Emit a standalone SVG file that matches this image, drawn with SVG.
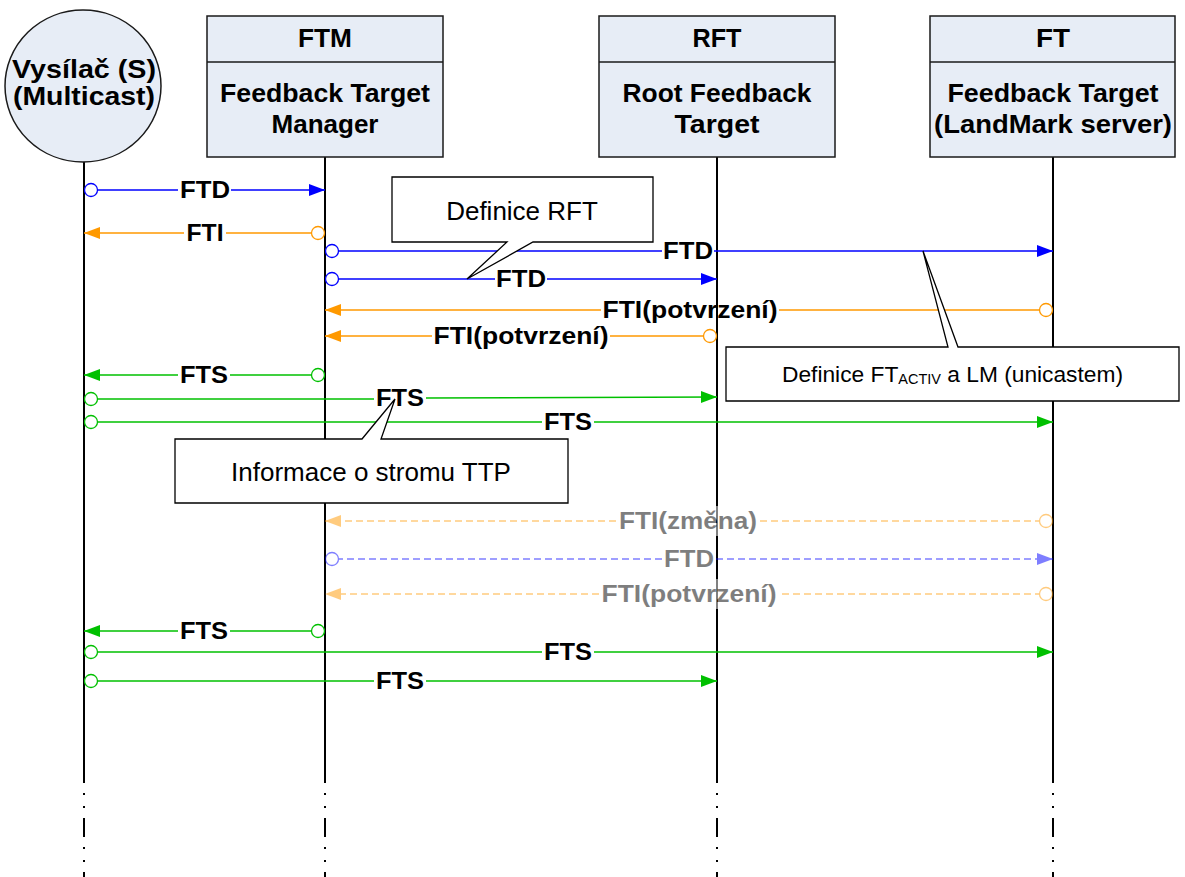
<svg xmlns="http://www.w3.org/2000/svg" width="1185" height="877" viewBox="0 0 1185 877">
<style>
.box{fill:#E7EDF6;stroke:#1a1a1a;stroke-width:1.5}
.life{stroke:#000;stroke-width:2;fill:none}
.dots{stroke:#000;stroke-width:2;fill:none;stroke-dasharray:2 11 2 10 19 10}
.hd{font-family:"Liberation Sans",Arial,sans-serif;font-weight:bold;font-size:25px;text-anchor:middle;fill:#000}
.lbl{font-family:"Liberation Sans",Arial,sans-serif;font-weight:bold;font-size:24px;text-anchor:middle;fill:#000}
.call{fill:#fff;stroke:#000;stroke-width:1.3}
.ct{font-family:"Liberation Sans",Arial,sans-serif;font-size:26px;text-anchor:middle;fill:#000}
.ct2{font-family:"Liberation Sans",Arial,sans-serif;font-size:22px;fill:#000}
.b{stroke:#0000FF;stroke-width:1.5;fill:none}
.o{stroke:#FF9900;stroke-width:1.5;fill:none}
.g{stroke:#00C000;stroke-width:1.5;fill:none}
.d{stroke-dasharray:7 4}
</style>
<defs>
<marker id="aB" markerUnits="userSpaceOnUse" markerWidth="16" markerHeight="12" refX="16" refY="6" orient="auto" overflow="visible"><path d="M0,0 L16,6 L0,12 Z" fill="#0000FF"/></marker>
<marker id="aO" markerUnits="userSpaceOnUse" markerWidth="16" markerHeight="12" refX="16" refY="6" orient="auto" overflow="visible"><path d="M0,0 L16,6 L0,12 Z" fill="#FF9900"/></marker>
<marker id="aG" markerUnits="userSpaceOnUse" markerWidth="16" markerHeight="12" refX="16" refY="6" orient="auto" overflow="visible"><path d="M0,0 L16,6 L0,12 Z" fill="#00C000"/></marker>
<marker id="cB" markerUnits="userSpaceOnUse" markerWidth="15" markerHeight="15" refX="0.5" refY="7.5" orient="auto" overflow="visible"><circle cx="7.5" cy="7.5" r="6.5" fill="#fff" stroke="#0000FF" stroke-width="1.3"/></marker>
<marker id="cO" markerUnits="userSpaceOnUse" markerWidth="15" markerHeight="15" refX="0.5" refY="7.5" orient="auto" overflow="visible"><circle cx="7.5" cy="7.5" r="6.5" fill="#fff" stroke="#FF9900" stroke-width="1.3"/></marker>
<marker id="cG" markerUnits="userSpaceOnUse" markerWidth="15" markerHeight="15" refX="0.5" refY="7.5" orient="auto" overflow="visible"><circle cx="7.5" cy="7.5" r="6.5" fill="#fff" stroke="#00C000" stroke-width="1.3"/></marker>
</defs>
<rect width="1185" height="877" fill="#fff"/>

<g id="lifelines">
<line class="life" x1="84" y1="162" x2="84" y2="783"/>
<line class="dots" x1="84" y1="793" x2="84" y2="877"/>
<line class="life" x1="325" y1="157" x2="325" y2="783"/>
<line class="dots" x1="325" y1="793" x2="325" y2="877"/>
<line class="life" x1="717" y1="157" x2="717" y2="783"/>
<line class="dots" x1="717" y1="793" x2="717" y2="877"/>
<line class="life" x1="1053" y1="157" x2="1053" y2="783"/>
<line class="dots" x1="1053" y1="793" x2="1053" y2="877"/>
</g>

<g id="node-S">
<ellipse class="box" cx="83" cy="86" rx="78" ry="76"/>
<text class="hd" x="84" y="78" textLength="144" lengthAdjust="spacingAndGlyphs">Vysílač (S)</text>
<text class="hd" x="84" y="105" textLength="142" lengthAdjust="spacingAndGlyphs">(Multicast)</text>
</g>
<g id="node-FTM">
<rect class="box" x="207" y="16" width="236" height="141"/>
<line x1="207" y1="62" x2="443" y2="62" stroke="#1a1a1a" stroke-width="1.5"/>
<text class="hd" x="325" y="47" textLength="54" lengthAdjust="spacingAndGlyphs">FTM</text>
<text class="hd" x="325" y="102" textLength="210" lengthAdjust="spacingAndGlyphs">Feedback Target</text>
<text class="hd" x="325" y="133" textLength="107" lengthAdjust="spacingAndGlyphs">Manager</text>
</g>
<g id="node-RFT">
<rect class="box" x="599" y="16" width="236" height="141"/>
<line x1="599" y1="62" x2="835" y2="62" stroke="#1a1a1a" stroke-width="1.5"/>
<text class="hd" x="717" y="47" textLength="49" lengthAdjust="spacingAndGlyphs">RFT</text>
<text class="hd" x="717" y="102" textLength="189" lengthAdjust="spacingAndGlyphs">Root Feedback</text>
<text class="hd" x="717" y="133" textLength="85" lengthAdjust="spacingAndGlyphs">Target</text>
</g>
<g id="node-FT">
<rect class="box" x="930" y="16" width="245" height="141"/>
<line x1="930" y1="62" x2="1175" y2="62" stroke="#1a1a1a" stroke-width="1.5"/>
<text class="hd" x="1053" y="47" textLength="34" lengthAdjust="spacingAndGlyphs">FT</text>
<text class="hd" x="1053" y="102" textLength="211" lengthAdjust="spacingAndGlyphs">Feedback Target</text>
<text class="hd" x="1053" y="133" textLength="238" lengthAdjust="spacingAndGlyphs">(LandMark server)</text>
</g>

<g id="connectors">
<!-- 1 FTD S->FTM -->
<line class="b" x1="84" y1="190" x2="178" y2="190" marker-start="url(#cB)"/>
<line class="b" x1="231" y1="190" x2="325" y2="190" marker-end="url(#aB)"/>
<text class="lbl" x="205" y="198" textLength="50" lengthAdjust="spacingAndGlyphs">FTD</text>
<!-- 2 FTI FTM->S -->
<line class="o" x1="325" y1="233" x2="226" y2="233" marker-start="url(#cO)"/>
<line class="o" x1="184" y1="233" x2="84" y2="233" marker-end="url(#aO)"/>
<text class="lbl" x="205" y="241" textLength="37" lengthAdjust="spacingAndGlyphs">FTI</text>
<!-- 3 FTD FTM->FT -->
<line class="b" x1="325" y1="251" x2="662" y2="251" marker-start="url(#cB)"/>
<line class="b" x1="714" y1="251" x2="1053" y2="251" marker-end="url(#aB)"/>
<text class="lbl" x="688" y="259" textLength="50" lengthAdjust="spacingAndGlyphs">FTD</text>
<!-- 4 FTD FTM->RFT -->
<line class="b" x1="325" y1="279" x2="495" y2="279" marker-start="url(#cB)"/>
<line class="b" x1="547" y1="279" x2="717" y2="279" marker-end="url(#aB)"/>
<text class="lbl" x="521" y="287" textLength="50" lengthAdjust="spacingAndGlyphs">FTD</text>
<!-- 5 FTI(potvrzeni) FT->FTM -->
<line class="o" x1="1053" y1="310" x2="779" y2="310" marker-start="url(#cO)"/>
<line class="o" x1="601" y1="310" x2="325" y2="310" marker-end="url(#aO)"/>
<text class="lbl" x="690" y="318" textLength="175" lengthAdjust="spacingAndGlyphs">FTI(potvrzení)</text>
<!-- 6 FTI(potvrzeni) RFT->FTM -->
<line class="o" x1="717" y1="336" x2="610" y2="336" marker-start="url(#cO)"/>
<line class="o" x1="432" y1="336" x2="325" y2="336" marker-end="url(#aO)"/>
<text class="lbl" x="521" y="344" textLength="175" lengthAdjust="spacingAndGlyphs">FTI(potvrzení)</text>
<!-- 7 FTS FTM->S -->
<line class="g" x1="325" y1="375" x2="230" y2="375" marker-start="url(#cG)"/>
<line class="g" x1="178" y1="375" x2="84" y2="375" marker-end="url(#aG)"/>
<text class="lbl" x="204" y="383" textLength="48" lengthAdjust="spacingAndGlyphs">FTS</text>
<!-- 8 FTS S->RFT -->
<line class="g" x1="84" y1="399" x2="374" y2="399" marker-start="url(#cG)"/>
<line class="g" x1="426" y1="398" x2="717" y2="397" marker-end="url(#aG)"/>
<text class="lbl" x="400" y="406" textLength="48" lengthAdjust="spacingAndGlyphs">FTS</text>
<!-- 9 FTS S->FT -->
<line class="g" x1="84" y1="422" x2="542" y2="422" marker-start="url(#cG)"/>
<line class="g" x1="594" y1="422" x2="1053" y2="422" marker-end="url(#aG)"/>
<text class="lbl" x="568" y="430" textLength="48" lengthAdjust="spacingAndGlyphs">FTS</text>
<!-- faded rows -->
<g opacity="0.5">
<rect x="617" y="506" width="143" height="30" fill="#fff"/>
<line class="o d" x1="1053" y1="521" x2="760" y2="521" marker-start="url(#cO)"/>
<line class="o d" x1="616" y1="521" x2="325" y2="521" marker-end="url(#aO)"/>
<text class="lbl" x="688" y="529" textLength="138" lengthAdjust="spacingAndGlyphs">FTI(změna)</text>
<line class="b d" x1="325" y1="559" x2="662" y2="559" marker-start="url(#cB)"/>
<line class="b d" x1="716" y1="559" x2="1053" y2="559" marker-end="url(#aB)"/>
<text class="lbl" x="689" y="567" textLength="50" lengthAdjust="spacingAndGlyphs">FTD</text>
<rect x="600" y="579" width="178" height="30" fill="#fff"/>
<line class="o d" x1="1053" y1="594" x2="779" y2="594" marker-start="url(#cO)"/>
<line class="o d" x1="599" y1="594" x2="325" y2="594" marker-end="url(#aO)"/>
<text class="lbl" x="689" y="602" textLength="175" lengthAdjust="spacingAndGlyphs">FTI(potvrzení)</text>
</g>
<!-- 13 FTS FTM->S -->
<line class="g" x1="325" y1="631" x2="230" y2="631" marker-start="url(#cG)"/>
<line class="g" x1="178" y1="631" x2="84" y2="631" marker-end="url(#aG)"/>
<text class="lbl" x="204" y="639" textLength="48" lengthAdjust="spacingAndGlyphs">FTS</text>
<!-- 14 FTS S->FT -->
<line class="g" x1="84" y1="652" x2="542" y2="652" marker-start="url(#cG)"/>
<line class="g" x1="594" y1="652" x2="1053" y2="652" marker-end="url(#aG)"/>
<text class="lbl" x="568" y="660" textLength="48" lengthAdjust="spacingAndGlyphs">FTS</text>
<!-- 15 FTS S->RFT -->
<line class="g" x1="84" y1="681" x2="374" y2="681" marker-start="url(#cG)"/>
<line class="g" x1="426" y1="681" x2="717" y2="681" marker-end="url(#aG)"/>
<text class="lbl" x="400" y="689" textLength="48" lengthAdjust="spacingAndGlyphs">FTS</text>
</g>

<g id="callout-RFT">
<path class="call" d="M392,177 H653 V242 H533 L467,279 L507,242 H392 Z"/>
<text class="ct" x="522" y="220">Definice RFT</text>
</g>
<g id="callout-FTACTIV">
<path class="call" d="M726,347 H948 L923,251 L958,347 H1179 V401 H726 Z"/>
<text class="ct2" x="782" y="382" textLength="341" lengthAdjust="spacingAndGlyphs">Definice FT<tspan font-size="14" dy="2">ACTIV</tspan><tspan dy="-2"> a LM (unicastem)</tspan></text>
</g>
<g id="callout-TTP">
<path class="call" d="M175,439 H362 L395,399 L381,439 H568 V503 H175 Z"/>
<text class="ct" x="371" y="481">Informace o stromu TTP</text>
</g>
</svg>
